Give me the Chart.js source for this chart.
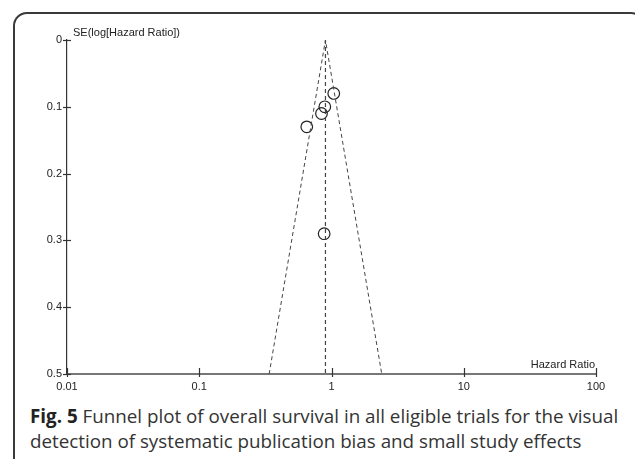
<!DOCTYPE html>
<html>
<head>
<meta charset="utf-8">
<script src="https://cdn.jsdelivr.net/npm/chart.js@4"></script>
<style>
  body { margin: 0; background: #fff; width: 635px; height: 459px; overflow: hidden; position: relative; }
  #frame { position: absolute; left: 13px; top: 12px; width: 632px; height: 470px; border: 2px solid #3a3a3a; border-radius: 14px; box-sizing: border-box; }
  #myChart { position: absolute; left: 0; top: 0; }
  #caption { position: absolute; left: 30px; top: 404px; font-family: "Open Sans", sans-serif; font-size: 18.8px; line-height: 25px; color: #333; white-space: nowrap; }
  #caption b { color: #222; }
</style>
</head>
<body>
<div id="frame"></div>
<canvas id="myChart" width="635" height="400"></canvas>
<div id="caption"><b>Fig. 5</b> Funnel plot of overall survival in all eligible trials for the visual<br>detection of systematic publication bias and small study effects</div>
<script>
// Study estimates
const studyHR = [1.04, 0.89, 0.84, 0.65, 0.88];
const studySE = [0.08, 0.10, 0.11, 0.13, 0.29];

// Pooled estimate (funnel apex) and funnel depth
const pooledHR = 0.90;
const seMax = 0.5;

// Axis ticks
const xTickValues = [0.01, 0.1, 1, 10, 100];
const xTickLabels = ['0.01', '0.1', '1', '10', '100'];
const yTickValues = [0, 0.1, 0.2, 0.3, 0.4, 0.5];
const yTickLabels = ['0', '0.1', '0.2', '0.3', '0.4', '0.5'];

const studyPoints = studyHR.map((hr, i) => ({ x: hr, y: studySE[i] }));
const funnelPoints = [
  { x: pooledHR * Math.exp(-1.96 * seMax), y: seMax },
  { x: pooledHR, y: 0 },
  { x: pooledHR * Math.exp(1.96 * seMax), y: seMax }
];
const centerPoints = [{ x: pooledHR, y: 0 }, { x: pooledHR, y: seMax }];

const axisFont = { family: '"Liberation Sans", Arial, sans-serif', size: 11 };

// Tick marks crossing the axes and the two axis titles
const axisExtras = {
  id: 'axisExtras',
  afterDraw(chart) {
    const c = chart.ctx;
    const xs = chart.scales.x, ys = chart.scales.y;
    const area = chart.chartArea;
    c.save();
    c.strokeStyle = '#333';
    c.lineWidth = 1.2;
    yTickValues.forEach(v => {
      const py = Math.round(ys.getPixelForValue(v)) + 0.5;
      c.beginPath();
      c.moveTo(area.left - 4, py);
      c.lineTo(area.left + 4, py);
      c.stroke();
    });
    xTickValues.forEach(v => {
      const px = Math.round(xs.getPixelForValue(v)) + 0.5;
      c.beginPath();
      c.moveTo(px, area.bottom - 6);
      c.lineTo(px, area.bottom + 3);
      c.stroke();
    });
    c.fillStyle = '#222';
    c.font = '11px "Liberation Sans", Arial, sans-serif';
    c.textAlign = 'left';
    c.textBaseline = 'alphabetic';
    c.fillText('SE(log[Hazard Ratio])', area.left + 6, area.top - 4);
    c.textAlign = 'right';
    c.fillText('Hazard Ratio', area.right - 1, area.bottom - 6);
    c.restore();
  }
};

const ctx = document.getElementById('myChart').getContext('2d');

new Chart(ctx, {
  type: 'scatter',
  data: {
    datasets: [
      {
        label: 'Funnel',
        data: funnelPoints,
        showLine: true,
        borderColor: '#444',
        borderWidth: 1,
        borderDash: [4, 3],
        pointRadius: 0,
        fill: false
      },
      {
        label: 'Pooled',
        data: centerPoints,
        showLine: true,
        borderColor: '#444',
        borderWidth: 1.2,
        borderDash: [4, 3],
        pointRadius: 0,
        fill: false
      },
      {
        label: 'Studies',
        data: studyPoints,
        pointStyle: 'circle',
        pointRadius: 5.8,
        pointBorderWidth: 1.2,
        pointBorderColor: '#222',
        pointBackgroundColor: 'rgba(0,0,0,0)'
      }
    ]
  },
  options: {
    responsive: false,
    animation: false,
    layout: { padding: { left: 0, top: 40, right: 39, bottom: 0 } },
    scales: {
      x: {
        type: 'logarithmic',
        min: 0.01,
        max: 100,
        afterBuildTicks: scale => { scale.ticks = xTickValues.map(v => ({ value: v })); },
        afterFit: scale => { scale.height = 26; },
        grid: { display: false, drawTicks: false },
        border: { display: true, color: '#777', width: 2 },
        ticks: {
          autoSkip: false,
          maxRotation: 0,
          padding: 6,
          color: '#222',
          font: axisFont,
          callback: v => xTickLabels[xTickValues.indexOf(v)]
        }
      },
      y: {
        type: 'linear',
        reverse: true,
        min: 0,
        max: 0.5,
        afterBuildTicks: scale => { scale.ticks = yTickValues.map(v => ({ value: v })); },
        afterFit: scale => { scale.width = 67; },
        grid: { display: false, drawTicks: false },
        border: { display: true, color: '#333', width: 1.2 },
        ticks: {
          padding: 5,
          color: '#222',
          font: axisFont,
          callback: (v, i) => yTickLabels[i]
        }
      }
    },
    plugins: {
      legend: { display: false },
      tooltip: { enabled: false }
    }
  },
  plugins: [axisExtras]
});
</script>
</body>
</html>
